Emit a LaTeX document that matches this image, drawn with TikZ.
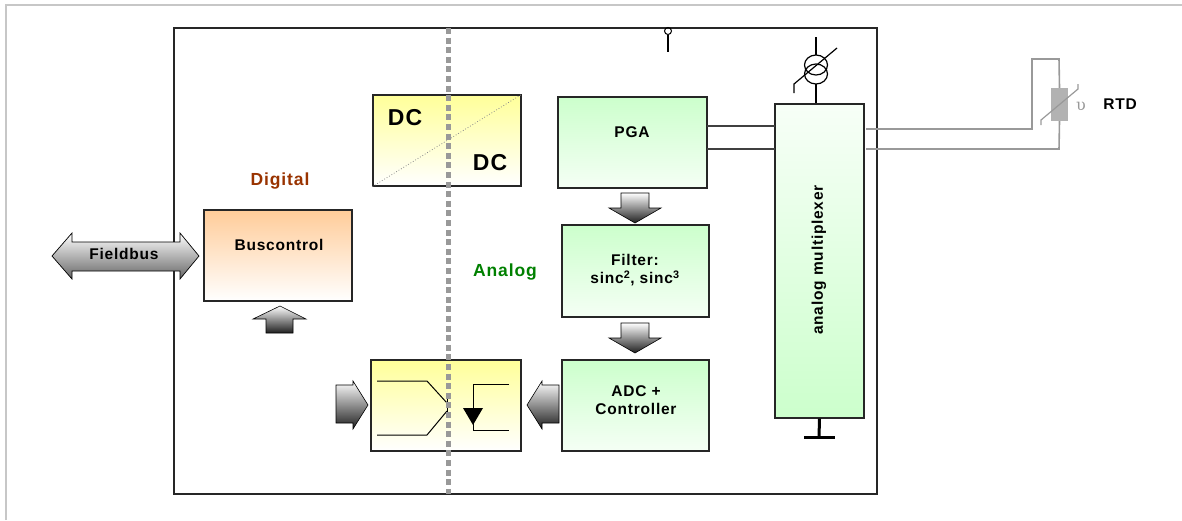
\documentclass[tikz,border=0pt]{standalone}
\usepackage{fontspec}
\setmainfont{Liberation Sans}[LetterSpace=5]
\newfontfamily\grk{DejaVu Serif}
\definecolor{ygold}{HTML}{FFFF99}
\definecolor{lgreen}{HTML}{CCFFCC}
\definecolor{lorange}{HTML}{FFCC99}
\definecolor{digi}{HTML}{993300}
\definecolor{ana}{HTML}{008000}
\definecolor{wire}{HTML}{999999}
\begin{document}
\begin{tikzpicture}[x=1pt,y=-1pt,
  box/.style={draw=black!85, line width=1.2pt, inner sep=0pt},
  greenbox/.style={box, top color=lgreen, bottom color=lgreen!20},
  yellowbox/.style={box, top color=ygold, bottom color=white},
  lbl/.style={font=\bfseries\fontsize{15.5}{18}\selectfont, align=center, inner sep=0pt},
  blockarrow/.style={draw=black, line width=0.6pt, top color=white, bottom color=black!88},
  sym/.style={line width=1.2pt, black},
  rtdwire/.style={wire, line width=1.6pt}]
\useasboundingbox (0,0) rectangle (1182,520);
% outer frame
\draw[black!22, line width=2pt] (6,520) -- (6,5) -- (1182,5);
% main box
\draw[black!85, line width=1.3pt] (174,28) rectangle (877,494);
% boxes
\node[yellowbox, minimum width=148, minimum height=91] (dcdc) at (447,140.5) {};
\node[greenbox, minimum width=149, minimum height=91] (pga) at (632.5,142.5) {};
\node[greenbox, minimum width=147, minimum height=92] (filter) at (635.5,271) {};
\node[greenbox, minimum width=147, minimum height=91] (adc) at (635.5,405.5) {};
\node[yellowbox, minimum width=150, minimum height=91] (opto) at (446,405.5) {};
\node[box, top color=lorange, bottom color=white, minimum width=148, minimum height=91] (bus) at (278,255.5) {};
\node[box, top color=lgreen!15, bottom color=lgreen, minimum width=89, minimum height=314] (mux) at (819.5,261) {};
% texts
\node[font=\bfseries\fontsize{23}{25}\selectfont, inner sep=0pt] (dc1) at (405,118) {DC};
\node[font=\bfseries\fontsize{23}{25}\selectfont, inner sep=0pt] (dc2) at (490,163) {DC};
\draw[black!45, dotted, line width=0.8pt] (dcdc.south west) -- (dcdc.north east);
\node[lbl] (pgat) at (632,132) {PGA};
\node[lbl] (filtert) at (635,270) {Filter:\\sinc\textsuperscript{2}, sinc\textsuperscript{3}};
\node[lbl] (adct) at (636,400) {ADC +\\Controller};
\node[lbl] (bust) at (279,245) {Buscontrol};
\node[lbl, rotate=90] (muxt) at (819,260) {analog multiplexer};
\node[lbl, font=\bfseries\fontsize{17.5}{19}\selectfont, text=digi] (digt) at (280,181) {Digital};
\node[lbl, font=\bfseries\fontsize{17.5}{19}\selectfont, text=ana] (anat) at (505,272) {Analog};
\node[lbl] (rtdt) at (1120,104) {RTD};
% optocoupler internals
\draw[sym, line width=1pt] (377,381) -- (427,381) -- (447,403);
\draw[sym, line width=1pt] (377,435) -- (427,435) -- (447,411);
\draw[sym, line width=1pt] (447,397) -- (447,417);
\draw[sym, line width=1pt] (509,384) -- (473,384) -- (473,430) -- (509,430);
\fill[black] (463,408) -- (483,408) -- (473,425) -- cycle;
% dashed separation
\draw[wire, line width=5pt, dash pattern=on 6pt off 3.6pt] (448,28) -- (448,494);
% block arrows
\path[blockarrow] (621,193) -- (649,193) -- (649,208) -- (661,208) -- (635,223) -- (609,208) -- (621,208) -- cycle;
\path[blockarrow] (621,323) -- (649,323) -- (649,338) -- (661,338) -- (635,353) -- (609,338) -- (621,338) -- cycle;
\path[blockarrow] (266,333) -- (266,319) -- (253,319) -- (280,306) -- (306,319) -- (293,319) -- (293,333) -- cycle;
\path[blockarrow] (336,385) -- (353,385) -- (353,381) -- (368,405) -- (353,429) -- (353,423) -- (336,423) -- cycle;
\path[blockarrow] (559,385) -- (542,385) -- (542,381) -- (527,405) -- (542,429) -- (542,423) -- (559,423) -- cycle;
\path[draw=black, line width=0.7pt, top color=white, bottom color=black!60]
  (52,256) -- (72,233) -- (72,242) -- (180,242) -- (180,233) -- (199,256) -- (180,279) -- (180,271) -- (72,271) -- (72,279) -- cycle;
\node[lbl] (fbt) at (124,254) {Fieldbus};
% PGA to mux
\coordinate (p1) at (707,126);
\coordinate (p2) at (707,149);
\coordinate (m1) at (775,126);
\coordinate (m2) at (775,149);
\draw[black!75, line width=1.3pt] (p1) -- (m1);
\draw[black!75, line width=1.3pt] (p2) -- (m2);
% RTD wiring
\coordinate (r1) at (866,129);
\coordinate (r2) at (866,149);
\node[fill=wire!75, draw=none, minimum width=17, minimum height=33, inner sep=0pt] (rtd) at (1059.5,104.5) {};
\draw[rtdwire] (r1) -- (1032,129) -- (1032,59) -- (1059,59) -- (rtd.north);
\draw[rtdwire] (r2) -- (1059,149) -- (rtd.south);
\draw[wire, line width=1.2pt] (1041,125) -- (1041,120) -- (1078,89) -- (1078,84);
\node[text=wire, inner sep=0pt, font=\grk\fontsize{16}{16}\selectfont] (nu) at (1081,106) {υ};
% top pin
\node[circle, draw=black, line width=1pt, minimum size=7, inner sep=0pt] (pin) at (668,31) {};
\coordinate (pinend) at (668,52);
\draw[sym] (pin.south) -- (pinend);
% current source
\draw[sym] (816,65) ellipse [x radius=11.5, y radius=10];
\draw[sym] (816,74) ellipse [x radius=11.5, y radius=10];
\draw[sym] (816,37) -- (816,55);
\draw[sym] (816,84) -- (mux.north -| 816,0);
\draw[sym] (794,93) -- (794,84) -- (837,48);
% ground
\coordinate (g0) at (819,437);
\draw[black, line width=3pt] (mux.south) -- (g0);
\draw[black, line width=3pt] (804,437) -- (835,437);
\end{tikzpicture}
\end{document}
